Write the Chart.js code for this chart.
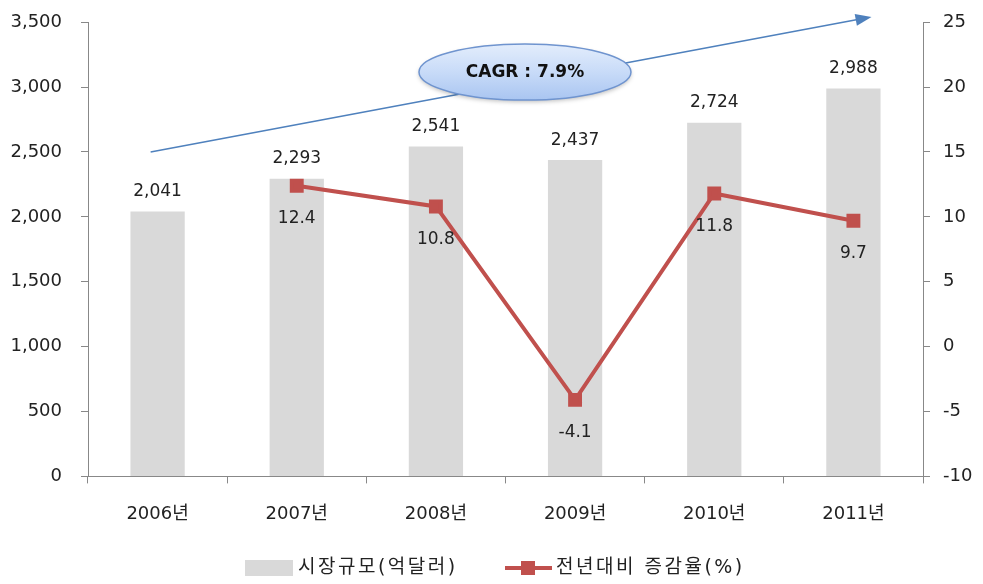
<!DOCTYPE html>
<html>
<head>
<meta charset="utf-8">
<script src="https://cdn.jsdelivr.net/npm/chart.js@4.4.1/dist/chart.umd.min.js"></script>
<style>
  html, body { margin: 0; padding: 0; background: #fff; }
  #wrap { width: 983px; height: 584px; }
</style>
</head>
<body>
<div id="wrap"><canvas id="c"></canvas></div>
<script>
// 데이터
const years = ["2006년", "2007년", "2008년", "2009년", "2010년", "2011년"];
const marketSize = [2041, 2293, 2541, 2437, 2724, 2988];
const growthRate = [null, 12.4, 10.8, -4.1, 11.8, 9.7];
const sizeLabel = "시장규모(억달러)";
const rateLabel = "전년대비 증감율(%)";
const cagrText = "CAGR : 7.9%";
// 추세 화살표 (카테고리 인덱스, 좌측축 값)
const trendStart = [-0.05, 2500];
const trendEnd = [5.13, 3540];
const cagrAt = [2.64, 3115];

const FONT = "'DejaVu Sans', 'Noto Sans CJK KR', sans-serif";
const TXT = "#222";

const fmt = v => v.toLocaleString("en-US");

// 데이터 레이블, 추세 화살표, 범례
const extras = {
    id: "extras",
    afterDatasetsDraw(chart) {
        const ctx = chart.ctx;
        const x = chart.scales.x, y = chart.scales.y;
        const barMeta = chart.getDatasetMeta(1);
        const lineMeta = chart.getDatasetMeta(0);
        ctx.save();
        ctx.font = "17px " + FONT;
        ctx.fillStyle = TXT;
        ctx.textAlign = "center";
        ctx.textBaseline = "middle";
        barMeta.data.forEach((bar, i) => {
            ctx.fillText(fmt(marketSize[i]), bar.x, bar.y - 20);
        });
        lineMeta.data.forEach((pt, i) => {
            if (growthRate[i] == null) return;
            ctx.fillText(growthRate[i].toFixed(1), pt.x, pt.y + 33);
        });

        // 화살표
        const x0 = x.getPixelForValue(trendStart[0]), y0 = y.getPixelForValue(trendStart[1]);
        const x1 = x.getPixelForValue(trendEnd[0]), y1 = y.getPixelForValue(trendEnd[1]);
        const ang = Math.atan2(y1 - y0, x1 - x0);
        ctx.strokeStyle = "#4f81bd";
        ctx.fillStyle = "#4f81bd";
        ctx.lineWidth = 1.5;
        ctx.beginPath();
        ctx.moveTo(x0, y0);
        ctx.lineTo(x1 - 10 * Math.cos(ang), y1 - 10 * Math.sin(ang));
        ctx.stroke();
        ctx.beginPath();
        ctx.moveTo(x1, y1);
        ctx.lineTo(x1 - 16 * Math.cos(ang) + 6 * Math.sin(ang), y1 - 16 * Math.sin(ang) - 6 * Math.cos(ang));
        ctx.lineTo(x1 - 16 * Math.cos(ang) - 6 * Math.sin(ang), y1 - 16 * Math.sin(ang) + 6 * Math.cos(ang));
        ctx.closePath();
        ctx.fill();

        // CAGR 타원
        const cx = x.getPixelForValue(cagrAt[0]), cy = y.getPixelForValue(cagrAt[1]);
        const g = ctx.createLinearGradient(0, cy - 28, 0, cy + 28);
        g.addColorStop(0, "#e3edfc");
        g.addColorStop(0.5, "#c8dbf8");
        g.addColorStop(1, "#a9c5f1");
        ctx.shadowColor = "rgba(0,0,0,0.25)";
        ctx.shadowBlur = 4;
        ctx.shadowOffsetY = 2;
        ctx.beginPath();
        ctx.ellipse(cx, cy, 106, 28, 0, 0, Math.PI * 2);
        ctx.fillStyle = g;
        ctx.fill();
        ctx.shadowColor = "transparent";
        ctx.strokeStyle = "#6f94cf";
        ctx.lineWidth = 1.5;
        ctx.stroke();
        ctx.fillStyle = "#111";
        ctx.font = "bold 17px " + FONT;
        ctx.fillText(cagrText, cx, cy);

        // 범례
        const ly = 568;
        ctx.font = "19px " + FONT;
        ctx.letterSpacing = "2.5px";
        ctx.textAlign = "left";
        ctx.fillStyle = "#d9d9d9";
        ctx.fillRect(245, ly - 8, 48, 16);
        ctx.fillStyle = TXT;
        ctx.fillText(sizeLabel, 298, ly);
        ctx.strokeStyle = "#c0504d";
        ctx.lineWidth = 4;
        ctx.beginPath();
        ctx.moveTo(505, ly);
        ctx.lineTo(552, ly);
        ctx.stroke();
        ctx.fillStyle = "#c0504d";
        ctx.fillRect(521, ly - 7, 14, 14);
        ctx.fillStyle = TXT;
        ctx.fillText(rateLabel, 556, ly);
        ctx.restore();
    }
};

new Chart(document.getElementById("c"), {
    type: "bar",
    data: {
        labels: years,
        datasets: [
            {
                type: "line",
                label: rateLabel,
                data: growthRate,
                yAxisID: "y1",
                borderColor: "#c0504d",
                backgroundColor: "#c0504d",
                borderWidth: 4,
                pointStyle: "rect",
                pointRadius: 7,
                pointHoverRadius: 7,
                tension: 0,
                order: 1
            },
            {
                label: sizeLabel,
                data: marketSize,
                yAxisID: "y",
                backgroundColor: "#d9d9d9",
                categoryPercentage: 1,
                barPercentage: 0.39,
                order: 2
            }
        ]
    },
    options: {
        responsive: true,
        maintainAspectRatio: false,
        animation: false,
        layout: { padding: { top: 0, left: 0, right: 0, bottom: 39 } },
        plugins: { legend: { display: false }, tooltip: { enabled: false } },
        scales: {
            x: {
                offset: true,
                grid: { offset: true, drawOnChartArea: false, tickLength: 7, color: "#888" },
                border: { color: "#888" },
                ticks: { font: { family: FONT, size: 18 }, color: TXT, padding: 20 }
            },
            y: {
                position: "left",
                min: 0, max: 3500,
                afterFit: s => { s.width = 88; },
                grid: { drawOnChartArea: false, tickLength: 7, color: "#888" },
                border: { color: "#888" },
                ticks: { stepSize: 500, font: { family: FONT, size: 18, lineHeight: 0.35 }, color: TXT, padding: 19, callback: v => fmt(v) }
            },
            y1: {
                position: "right",
                min: -10, max: 25,
                afterFit: s => { s.width = 60; },
                grid: { drawOnChartArea: false, tickLength: 7, color: "#888" },
                border: { color: "#888" },
                ticks: { stepSize: 5, font: { family: FONT, size: 18, lineHeight: 0.35 }, color: TXT, padding: 13 }
            }
        }
    },
    plugins: [extras]
});
</script>
</body>
</html>
